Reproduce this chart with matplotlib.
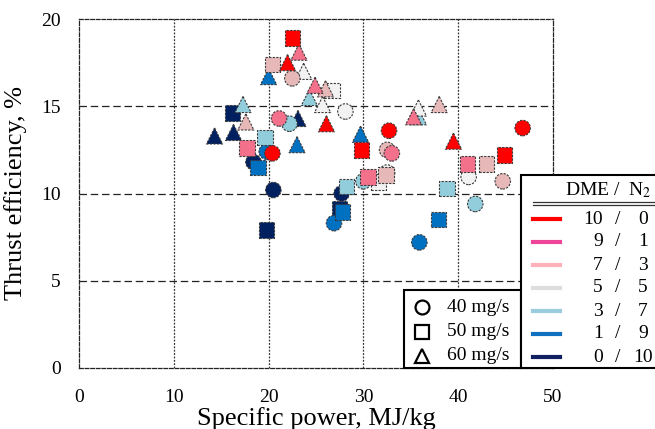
import matplotlib
matplotlib.use("Agg")
import matplotlib.pyplot as plt
from matplotlib.patches import Rectangle
from matplotlib.lines import Line2D

plt.rcParams['font.family'] = ['Liberation Serif', 'DejaVu Serif']
plt.rcParams['mathtext.fontset'] = 'stix'

# ---- data ----
ratio_labels = [("10", "0"), ("9", "1"), ("7", "3"), ("5", "5"), ("3", "7"), ("1", "9"), ("0", "10")]
fill_colors = ['#FF0000', '#F4718C', '#E6B8B8', '#F2F2F2', '#92CDDC', '#0070C0', '#002060']
line_colors = ['#FF0000', '#EE4499', '#FFB0B8', '#DDDDDD', '#99CCDD', '#1070C0', '#102060']

# specific power (MJ/kg) and thrust efficiency (%) per DME/N2 ratio
p40 = [[20.4, 32.7, 46.8], [21.1, 33.0], [22.5, 32.5, 44.7], [28.1, 32.5, 41.1],
       [22.2, 30.0, 41.8], [19.8, 26.9, 35.9], [18.4, 20.5, 27.7]]
e40 = [[12.3, 13.6, 13.75], [14.3, 12.3], [16.6, 12.5, 10.7], [14.7, 11.2, 10.95],
       [14.0, 10.7, 9.4], [12.4, 8.3, 7.2], [11.8, 10.2, 10.0]]
p50 = [[22.5, 29.8, 44.9], [17.7, 30.5, 41.0], [20.4, 32.4, 43.0], [26.7, 31.6],
       [19.6, 28.2, 38.8], [18.9, 27.8, 37.9], [16.2, 19.8, 27.5]]
e50 = [[18.9, 12.5, 12.2], [12.6, 10.95, 11.7], [17.4, 11.05, 11.7], [15.9, 10.66],
       [13.2, 10.4, 10.3], [11.5, 8.95, 8.5], [14.6, 7.9, 9.1]]
p60 = [[22.0, 26.1, 39.5], [23.2, 24.9, 35.3], [26.0, 17.6, 38.0], [23.7, 25.7, 35.8],
       [17.3, 24.3, 35.8], [20.0, 23.0, 29.7], [14.3, 16.3, 23.1]]
e60 = [[17.5, 14.0, 13.0], [18.1, 16.2, 14.4], [16.0, 14.1, 15.1], [17.0, 15.1, 14.9],
       [15.1, 15.5, 14.4], [16.7, 12.8, 13.4], [13.3, 13.5, 14.3]]
flow_labels = ["40 mg/s", "50 mg/s", "60 mg/s"]
flow_markers = ['o', 's', '^']

W, H = 655, 429
fig = plt.figure(figsize=(W / 100, H / 100), dpi=100)
ax = fig.add_axes([79 / W, 1 - 368 / H, (553 - 79) / W, (368 - 19) / H])

def fx(px):
    return px / W

def fy(py):
    return 1 - py / H

ax.set_xlim(0, 50)
ax.set_ylim(0, 20)
ax.set_xticks([0, 10, 20, 30, 40, 50])
ax.set_yticks([0, 5, 10, 15, 20])
ax.tick_params(length=0, labelsize=14)
ax.tick_params(axis='x', pad=15)
ax.tick_params(axis='y', pad=13)

for v in [10, 20, 30, 40]:
    ax.axvline(v, color='#333333', lw=0.9, ls=(0, (1.5, 1.2)), zorder=1)
for v in [5, 10, 15]:
    ax.axhline(v, color='#222222', lw=0.9, ls=(0, (6, 3)), zorder=1)
for s in ax.spines.values():
    s.set_linestyle((0, (3, 1.5)))
    s.set_linewidth(0.9)
    s.set_color('#222222')

ax.set_xlabel("Specific power, MJ/kg", fontsize=19, labelpad=1)
ax.set_ylabel("Thrust efficiency, %", fontsize=19, labelpad=10)

# draw from 0/10 up to 10/0 so red is on top
z = 3
for i in reversed(range(len(ratio_labels))):
    for px_, ey_, mk in [(p40[i], e40[i], 'o'), (p50[i], e50[i], 's'), (p60[i], e60[i], '^')]:
        ax.scatter(px_, ey_, s=125 if mk != '^' else 135, marker=mk, c=fill_colors[i],
                   edgecolors='#3a3a3a', linewidths=0.8, linestyles=(0, (2, 1.2)),
                   zorder=z, clip_on=False)
        z += 0.01

# ---- flow-rate legend (manual) ----
fig.patches.append(Rectangle((fx(404), fy(368)), fx(521) - fx(404), fy(290) - fy(368),
                             transform=fig.transFigure, fill=True, facecolor='white',
                             edgecolor='black', lw=1.5, zorder=10))
for k, (lab, mk) in enumerate(zip(flow_labels, flow_markers)):
    yy = [307, 332, 356][k]
    fig.lines.append(Line2D([fx(422)], [fy(yy)], marker=mk, markersize=10 if mk != 's' else 9.5,
                            markerfacecolor='white', markeredgecolor='black', markeredgewidth=1.6,
                            transform=fig.transFigure, zorder=11))
    fig.text(fx(447), fy(yy), lab, fontsize=14, va='center', ha='left', zorder=12)

# ---- DME/N2 legend (manual) ----
fig.patches.append(Rectangle((fx(521), fy(368)), fx(660) - fx(521), fy(175) - fy(368),
                             transform=fig.transFigure, fill=True, facecolor='white',
                             edgecolor='black', lw=1.5, zorder=10))
fig.text(fx(651), fy(190), "DME /  N$_2$", fontsize=14, ha='right', va='center', zorder=12)
for yy in [201.5, 205]:
    fig.lines.append(Line2D([fx(533), fx(655)], [fy(yy), fy(yy)], color='#333333', lw=0.9,
                            transform=fig.transFigure, zorder=11))
for k, ((a, b), c) in enumerate(zip(ratio_labels, line_colors)):
    yy = 219 + k * 23
    fig.lines.append(Line2D([fx(533), fx(560)], [fy(yy), fy(yy)], color=c, lw=3,
                            transform=fig.transFigure, zorder=11))
    fig.text(fx(603), fy(yy), a, fontsize=14, ha='right', va='center', zorder=12)
    fig.text(fx(618), fy(yy), "/", fontsize=14, ha='center', va='center', zorder=12)
    fig.text(fx(643), fy(yy), b, fontsize=14, ha='center', va='center', zorder=12)

fig.savefig("out.png", dpi=100)
